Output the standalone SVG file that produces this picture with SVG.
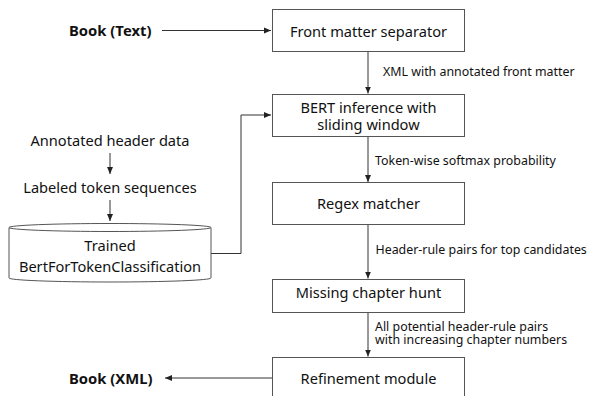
<svg xmlns="http://www.w3.org/2000/svg" width="589" height="396" viewBox="0 0 589 396">
<defs>
<marker id="ah" markerWidth="8" markerHeight="8" refX="7" refY="4" orient="auto" markerUnits="userSpaceOnUse">
<path d="M0,1 L7,4 L0,7 z" fill="#222"/>
</marker>
<style>
.box{fill:#fff;stroke:#555;stroke-width:1}
.t{font-family:"Noto Sans",sans-serif;font-size:14.6px;fill:#111;text-anchor:middle}
.l{font-family:"Noto Sans",sans-serif;font-size:12.4px;fill:#111}
.b{font-family:"Noto Sans",sans-serif;font-size:14.8px;font-weight:bold;fill:#111}
.c{fill:none;stroke:#333;stroke-width:1;marker-end:url(#ah)}
</style>
</defs>
<g id="connectors">
<path class="c" d="M162,30.5 H271"/>
<path class="c" d="M368,52 V93.5"/>
<path class="c" d="M368,137 V182"/>
<path class="c" d="M368,224.5 V278.5"/>
<path class="c" d="M368,313 V356.5"/>
<path class="c" d="M272,378 H165"/>
<path class="c" d="M110,153 V174"/>
<path class="c" d="M110,200 V221"/>
<path class="c" d="M211,253.5 H241 V115 H271"/>
<text class="l" x="383" y="76">XML with annotated front matter</text>
<text class="l" x="375" y="165">Token-wise softmax probability</text>
<text class="l" x="375.5" y="254">Header-rule pairs for top candidates</text>
<text class="l" x="375" y="330.5">All potential header-rule pairs</text>
<text class="l" x="375" y="344">with increasing chapter numbers</text>
</g>
<g id="book-text"><text class="b" x="69" y="36">Book (Text)</text></g>
<g id="book-xml"><text class="b" x="69" y="383.5">Book (XML)</text></g>
<g id="front-matter"><rect class="box" x="272.5" y="9.5" width="192" height="42"/><text class="t" x="368.5" y="36.5">Front matter separator</text></g>
<g id="bert"><rect class="box" x="272.5" y="94.5" width="192" height="42"/><text class="t" x="368.5" y="112.5">BERT inference with</text><text class="t" x="368.5" y="129.5">sliding window</text></g>
<g id="regex"><rect class="box" x="272.5" y="182.5" width="192" height="42"/><text class="t" x="368.5" y="209">Regex matcher</text></g>
<g id="missing"><rect class="box" x="272.5" y="279.5" width="192" height="33"/><text class="t" x="368.5" y="297.5">Missing chapter hunt</text></g>
<g id="refinement"><rect class="box" x="272.5" y="357.5" width="192" height="42"/><text class="t" x="368.5" y="383.5">Refinement module</text></g>
<g id="annotated"><text class="t" x="110" y="146">Annotated header data</text></g>
<g id="labeled"><text class="t" x="110" y="193">Labeled token sequences</text></g>
<g id="model">
<path class="box" d="M9,227.5 V278 A101,4 0 0 0 211,278 V227.5"/>
<ellipse class="box" cx="110" cy="227.5" rx="101" ry="4"/>
<text class="t" x="110" y="251">Trained</text>
<text class="t" x="110" y="271.5">BertForTokenClassification</text>
</g>
</svg>
